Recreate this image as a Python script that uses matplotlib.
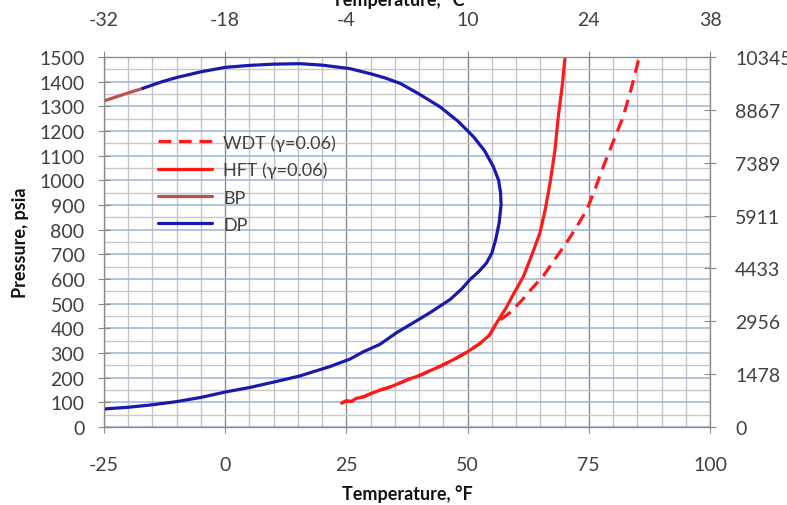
import matplotlib
matplotlib.use("Agg")
import matplotlib.pyplot as plt
from matplotlib.ticker import MultipleLocator, FixedLocator

plt.rcParams['font.family'] = ['Lato', 'DejaVu Sans']
plt.rcParams['axes.unicode_minus'] = False

# ---- data ----
dp_T = [-25, -20, -15.5, -10, -5, 0.3, 5, 10, 15.4, 21.6, 25.7, 28.5, 31.9, 35.4, 39, 42.2,
        46.4, 48.8, 50.5, 52.3, 53.9, 55, 55.8, 56.5, 56.9, 56.8, 56.4, 55.3, 53.5, 51.2, 48,
        44.3, 40, 36.1, 33, 30, 25.7, 20, 15.4, 10, 5, 0, -5, -10, -13, -17]
dp_P = [73, 80, 89, 103, 120, 143, 160, 182, 207, 245, 275, 305, 335, 383, 425, 463,
        517, 560, 598, 630, 665, 705, 760, 827, 900, 950, 1000, 1056, 1120, 1177, 1240,
        1298, 1350, 1393, 1415, 1432, 1453, 1467, 1473, 1471, 1466, 1458, 1440, 1417, 1400, 1373]

bp_T = [-17, -21, -25]
bp_P = [1373, 1348, 1322]

hft_T = [24, 25, 26, 27, 28.5, 30, 32, 34, 36, 38, 40, 42, 44.3, 47, 50, 52.5, 54.5, 56,
         58, 59.5, 61.5, 63.3, 64.9, 66, 67, 68, 68.7, 69.5, 70.1]
hft_P = [97, 106, 103, 116, 122, 135, 150, 162, 178, 195, 208, 226, 246, 272, 305, 338, 372, 423,
         485, 540, 610, 700, 786, 880, 988, 1120, 1258, 1380, 1500]

wdt_T = [24, 25, 26, 27, 28.5, 30, 32, 34, 36, 38, 40, 42, 44.3, 47, 50, 52.5, 54.5, 56,
         58.7, 61.5, 63.2, 65.6, 68, 70.4, 72.5, 74.6, 76.3, 78, 80, 82.1, 83.8, 85.4]
wdt_P = [97, 106, 103, 116, 122, 135, 150, 162, 178, 195, 208, 226, 246, 272, 305, 338, 372, 423,
         463, 520, 560, 612, 680, 747, 812, 881, 965, 1056, 1155, 1258, 1375, 1500]

x_ticks = [-25, 0, 25, 50, 75, 100]
top_labels = ['-32', '-18', '-4', '10', '24', '38']
right_ticks = [0, 1478, 2956, 4433, 5911, 7389, 8867, 10345]
right_labels = ['0', '1478', '2956', '4433', '5911', '7389', '8867', '10345']

# ---- figure ----
fig = plt.figure(figsize=(7.87, 5.06), dpi=100)
ax = fig.add_axes([104/787, 1-428/506, (710-104)/787, (428-58)/506])

RED = '#FF1A1A'
BLUE = '#1A1AAA'
BPC = '#C0504D'
TXT = '#404040'
SPINE = '#8A8A8A'

ax.set_xlim(-25, 100)
ax.set_ylim(0, 1500)

kw = dict(lw=2.3, solid_joinstyle='round', solid_capstyle='round')
ax.plot(wdt_T, wdt_P, color=RED, lw=2.3, dashes=(4, 2.4), label='WDT (\u03b3=0.06)', zorder=3)
ax.plot(hft_T, hft_P, color=RED, label='HFT (\u03b3=0.06)', zorder=3, **kw)
ax.plot(bp_T, bp_P, color=BPC, label='BP', zorder=4, **kw)
ax.plot(dp_T, dp_P, color=BLUE, label='DP', zorder=4, **kw)

# grid
ax.xaxis.set_major_locator(FixedLocator(x_ticks))
ax.xaxis.set_minor_locator(MultipleLocator(5))
ax.yaxis.set_major_locator(MultipleLocator(100))
ax.yaxis.set_minor_locator(MultipleLocator(50))
ax.xaxis.grid(True, which='major', color='#8C8C8C', lw=1.0)
ax.xaxis.grid(True, which='minor', color='#C4C4C4', lw=1.0)
ax.yaxis.grid(True, which='major', color='#9CB3D8', lw=1.1)
ax.yaxis.grid(True, which='minor', color='#C8C8C8', lw=1.0)
ax.set_axisbelow(True)

for s in ax.spines.values():
    s.set_color(SPINE)

ax.tick_params(axis='both', which='minor', length=0)
ax.tick_params(axis='x', which='major', direction='inout', length=8, color=SPINE,
               labelsize=14, labelcolor=TXT, pad=17)
ax.tick_params(axis='y', which='major', direction='inout', length=8, color=SPINE,
               labelsize=14, labelcolor=TXT, pad=10)

ax.set_xlabel('Temperature, \u00b0F', fontsize=13, fontweight='bold', color='#111111', labelpad=8)
ax.set_ylabel('Pressure, psia', fontsize=13, fontweight='bold', color='#111111', labelpad=7)

# top axis (deg C)
axt = ax.twiny()
axt.set_xlim(ax.get_xlim())
axt.set_xticks(x_ticks)
axt.set_xticklabels(top_labels)
axt.tick_params(axis='x', direction='inout', length=8, color=SPINE, labelsize=14,
                labelcolor=TXT, pad=17)
for s in axt.spines.values():
    s.set_color(SPINE)

# right axis (kPa)
axr = ax.twinx()
axr.set_ylim(0, 10345)
axr.set_yticks(right_ticks)
axr.set_yticklabels(right_labels)
axr.tick_params(axis='y', direction='inout', length=8, color=SPINE, labelsize=14,
                labelcolor=TXT, pad=14)
for s in axr.spines.values():
    s.set_color(SPINE)

fig.text(398/787, 1-6/506, 'Temperature, \u00b0C', fontsize=13, fontweight='bold',
         color='#111111', ha='center', va='baseline')

leg = ax.legend(loc='upper left', bbox_to_anchor=(158/787, 1-135/506),
                bbox_transform=fig.transFigure, frameon=False, fontsize=13,
                handlelength=3.0, handletextpad=0.6, labelspacing=0.62,
                borderpad=0, borderaxespad=0)
for t in leg.get_texts():
    t.set_color(TXT)

fig.savefig('out.png', dpi=100, facecolor='white')
